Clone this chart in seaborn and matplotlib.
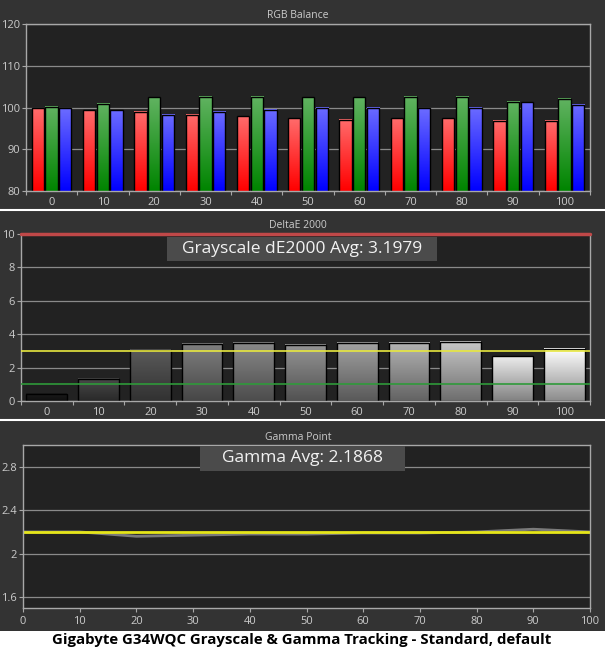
import numpy as np
import pandas as pd
import matplotlib
matplotlib.use("Agg")
import matplotlib.pyplot as plt
from matplotlib.patches import Rectangle
from matplotlib.lines import Line2D
import seaborn as sns

# values
levels = [0, 10, 20, 30, 40, 50, 60, 70, 80, 90, 100]
red = [99.8, 99.3, 99.0, 98.3, 97.9, 97.4, 97.1, 97.4, 97.4, 96.8, 96.8]
green = [100.2, 100.9, 102.4, 102.6, 102.6, 102.4, 102.4, 102.6, 102.6, 101.4, 102.1]
blue = [99.8, 99.4, 98.3, 99.0, 99.5, 100.0, 100.0, 99.8, 100.0, 101.2, 100.7]
delta_e = [0.44, 1.34, 3.08, 3.44, 3.5, 3.38, 3.5, 3.5, 3.56, 2.68, 3.14]
gray_tops = ["#1c1c1c", "#4a4a4a", "#5a5a5a", "#808080", "#8a8a8a", "#959595",
             "#a2a2a2", "#b4b4b4", "#c8c8c8", "#ececec", "#ffffff"]
gamma_measured = [2.2, 2.2, 2.16, 2.17, 2.18, 2.18, 2.19, 2.19, 2.2, 2.225, 2.2]
gamma_target = [2.2, 2.2, 2.2, 2.2, 2.2, 2.2, 2.2, 2.2, 2.2, 2.2, 2.2]
de_avg = "Grayscale dE2000 Avg: 3.1979"
gamma_avg = "Gamma Avg: 2.1868"
caption = "Gigabyte G34WQC Grayscale & Gamma Tracking - Standard, default"

sns.set_theme(style="dark")
plt.rcParams["font.family"] = ["Open Sans", "DejaVu Sans"]

W, H = 605, 652
BG = "#333333"
PLOT_BG = "#222222"
TXT = "#cccccc"
SPINE = "#a8a8a8"

fig = plt.figure(figsize=(W / 100, H / 100), dpi=100)
fig.patch.set_facecolor("white")
fig.patches.append(Rectangle((0, 1 - 631 / H), 1, 631 / H, transform=fig.transFigure,
                             facecolor=BG, edgecolor="none", zorder=-5))
for ysep in [210, 420]:
    fig.add_artist(Line2D([0, 1], [1 - ysep / H, 1 - ysep / H], transform=fig.transFigure,
                          color="white", lw=1.5, zorder=-4))


def box(x0, y0, x1, y1):
    return [x0 / W, 1 - y1 / H, (x1 - x0) / W, (y1 - y0) / H]


def style(ax):
    ax.set_facecolor(PLOT_BG)
    for s in ax.spines.values():
        s.set_visible(True)
        s.set_color(SPINE)
        s.set_linewidth(1)
    ax.yaxis.grid(True, color="#8a8a8a", lw=0.9)
    ax.xaxis.grid(False)
    ax.set_axisbelow(True)
    ax.tick_params(axis="both", which="both", colors=SPINE, labelcolor=TXT,
                   labelsize=8, length=3, width=0.8, pad=1.5, direction="out",
                   left=True, bottom=True)
    ax.set_xlabel("")
    ax.set_ylabel("")


def cat_ticks(ax):
    ax.set_xlim(-0.5, 10.5)
    ax.set_xticks(range(11))
    ax.set_xticklabels([str(v) for v in levels])
    ax.set_xticks(np.arange(-0.5, 11, 1), minor=True)
    ax.tick_params(axis="x", which="major", length=0, pad=4)
    ax.tick_params(axis="x", which="minor", length=3)


def gradient_fill(ax, patch, top, bottom, ymin):
    # shade the visible part of a bar from its top colour down to its bottom colour
    x, w = patch.get_x(), patch.get_width()
    y0 = max(patch.get_y(), ymin)
    y1 = patch.get_y() + patch.get_height()
    t = np.linspace(0, 1, 64)[:, None, None]
    img = np.array(top)[None, None, :] * (1 - t) + np.array(bottom)[None, None, :] * t
    ax.imshow(img, extent=(x, x + w, y0, y1), aspect="auto", origin="upper",
              interpolation="bilinear", zorder=patch.get_zorder())
    patch.set_facecolor("none")
    patch.set_zorder(patch.get_zorder() + 0.1)


def title(ypx, text):
    fig.text(298 / W, 1 - ypx / H, text, ha="center", va="center", fontsize=7.5, color=TXT)


def label_box(x0, y0, x1, y1, text):
    fig.patches.append(Rectangle((x0 / W, 1 - y1 / H), (x1 - x0) / W, (y1 - y0) / H,
                                 transform=fig.transFigure, facecolor="#4b4b4b",
                                 edgecolor="none", zorder=5))
    fig.text((x0 + x1) / 2 / W, 1 - (y0 + y1) / 2 / H, text, ha="center", va="center",
             fontsize=12.5, color="#f2f2f2", zorder=6)


# --- RGB Balance ---
ax1 = fig.add_axes(box(26, 24, 590, 191))
rgb = pd.DataFrame({
    "level": [str(v) for v in levels] * 3,
    "value": red + green + blue,
    "channel": ["R"] * 11 + ["G"] * 11 + ["B"] * 11,
})
sns.barplot(data=rgb, x="level", y="value", hue="channel", palette=["#ff0000", "#008a00", "#0000ff"],
            edgecolor="black", linewidth=1, width=0.8, gap=0.1, legend=False, ax=ax1)
style(ax1)
ax1.set_ylim(80, 120)
ax1.set_yticks([80, 90, 100, 110, 120])
cat_ticks(ax1)
tops = {"R": (1.0, 0.42, 0.42), "G": (0.38, 0.70, 0.38), "B": (0.42, 0.42, 1.0)}
bottoms = {"R": (1.0, 0.0, 0.0), "G": (0.0, 0.52, 0.0), "B": (0.0, 0.0, 1.0)}
for i, p in enumerate(list(ax1.patches)):
    ch = ["R", "G", "B"][i // 11]
    gradient_fill(ax1, p, tops[ch], bottoms[ch], 80)
ax1.set_xlim(-0.5, 10.5)
ax1.set_ylim(80, 120)
title(15, "RGB Balance")

# --- DeltaE 2000 ---
ax2 = fig.add_axes(box(21, 234, 590, 401))
sns.barplot(x=[str(v) for v in levels], y=delta_e, color="#888888", edgecolor="black",
            linewidth=1, width=0.79, ax=ax2)
style(ax2)
ax2.set_ylim(0, 10)
ax2.set_yticks([0, 2, 4, 6, 8, 10])
cat_ticks(ax2)
for p, c in zip(list(ax2.patches), gray_tops):
    top = np.array(matplotlib.colors.to_rgb(c))
    gradient_fill(ax2, p, top, top * 0.55, 0)
ax2.axhline(3, color="#e8e840", lw=1.2, zorder=5)
ax2.axhline(1, color="#2f9a3a", lw=1.2, zorder=5)
ax2.axhline(10, color="#c04848", lw=2.5, zorder=6, clip_on=False)
ax2.set_xlim(-0.5, 10.5)
ax2.set_ylim(0, 10)
title(225, "DeltaE 2000")
label_box(167, 237, 437, 261, de_avg)

# --- Gamma Point ---
ax3 = fig.add_axes(box(23, 445, 590, 608))
gam = pd.DataFrame({"level": levels, "measured": gamma_measured, "target": gamma_target})
sns.lineplot(data=gam, x="level", y="measured", color="#7a7a7a", lw=2, ax=ax3)
sns.lineplot(data=gam, x="level", y="target", color="#e6e619", lw=2, ax=ax3)
style(ax3)
ax3.set_xlim(0, 100)
ax3.set_ylim(1.5, 3.0)
ax3.set_yticks([1.6, 2.0, 2.4, 2.8])
ax3.set_yticklabels(["1.6", "2", "2.4", "2.8"])
ax3.set_xticks(levels)
ax3.tick_params(axis="x", pad=3)
title(437, "Gamma Point")
label_box(200, 446, 405, 471, gamma_avg)

fig.text(302 / W, 1 - 640 / H, caption, ha="center", va="center", fontsize=10.8,
         fontweight="bold", color="black")

fig.savefig("out.png", dpi=100, facecolor=fig.get_facecolor())
